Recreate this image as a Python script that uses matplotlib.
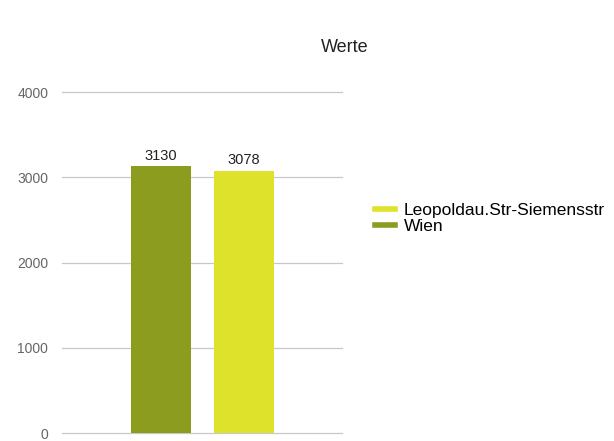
import matplotlib.pyplot as plt
from matplotlib.lines import Line2D

plt.rcParams['font.family'] = ['Liberation Sans', 'DejaVu Sans']

series = ['Wien', 'Leopoldau.Str-Siemensstr']
values = [3130, 3078]
colors = ['#8b9c1f', '#dfe22b']
yticks = [0, 1000, 2000, 3000, 4000]

fig = plt.figure(figsize=(6.14, 4.41), dpi=100)
ax = fig.add_axes([0.101, 0.018, 0.456, 0.773])

x = range(len(values))
bars = ax.bar(x, values, width=0.72, color=colors, zorder=3)
for b, v in zip(bars, values):
    ax.text(b.get_x() + b.get_width() / 2, v + 40, str(v),
            ha='center', va='bottom', fontsize=10.5, color='#222222')

ax.set_ylim(0, 4000)
ax.set_xlim(-1.19, 2.18)
ax.set_yticks(yticks)
ax.set_yticklabels([str(t) for t in yticks], fontsize=10, color='#666666')
ax.set_xticks([])
ax.tick_params(axis='y', length=0, pad=10)
ax.grid(axis='y', color='#c8c8c8', linewidth=0.9, zorder=0)
for line in ax.get_ygridlines():
    line.set_clip_on(False)
for s in ax.spines.values():
    s.set_visible(False)

fig.text(0.562, 0.893, 'Werte', ha='center', va='center', fontsize=13, color='#222222')

handles = [Line2D([0], [0], color=colors[1], lw=4),
           Line2D([0], [0], color=colors[0], lw=4)]
fig.legend(handles, [series[1], series[0]], loc='center left',
           bbox_to_anchor=(0.585, 0.505), frameon=False, fontsize=12.5,
           handlelength=1.15, handletextpad=0.5, labelspacing=0.05)

fig.savefig('out.png', dpi=100)
